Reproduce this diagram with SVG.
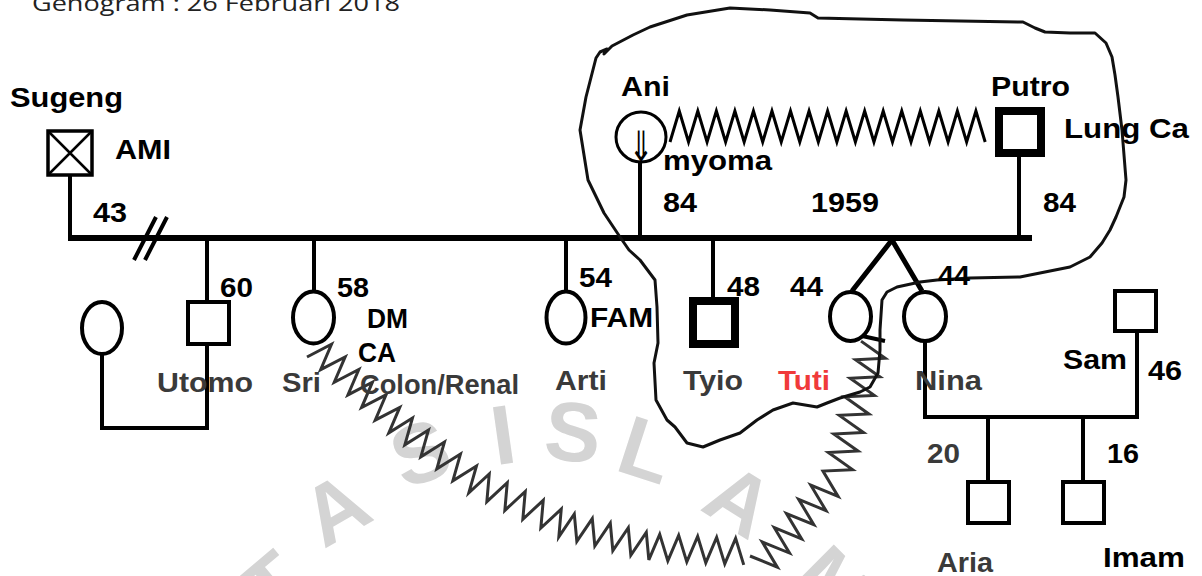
<svg xmlns="http://www.w3.org/2000/svg" width="1202" height="576" viewBox="0 0 1202 576">
<style>
.ln{stroke:#000;stroke-width:4;fill:none;stroke-linecap:butt}
.zz{stroke:#000;stroke-width:3;fill:none;stroke-linejoin:miter}
.zg{stroke:#333;stroke-width:3;fill:none;stroke-linejoin:miter}
.sh{fill:#fff;stroke:#000;stroke-width:4}
.thick{fill:#fff;stroke:#000;stroke-width:8}
.t{font-family:"Liberation Sans",Arial,sans-serif;font-weight:bold;font-size:27px;fill:#000}
.g{fill:#3a3a3a}
.wm{font-family:"Liberation Sans",Arial,sans-serif;font-weight:bold;font-size:84px;fill:#d4d4d4;text-anchor:middle}
</style>
<rect width="1202" height="576" fill="#fff"/>
<g id="watermark">
<text class="wm" transform="translate(272,585) rotate(-40)" y="30">T</text>
<text class="wm" transform="translate(335,508) rotate(-30)" y="30">A</text>
<text class="wm" transform="translate(420,452) rotate(-20)" y="30">S</text>
<text class="wm" transform="translate(503,434) rotate(-8)" y="30">I</text>
<text class="wm" transform="translate(573,431) rotate(5)" y="30">S</text>
<text class="wm" transform="translate(647,449) rotate(18)" y="30">L</text>
<text class="wm" transform="translate(740,500) rotate(32)" y="30">A</text>
<text class="wm" transform="translate(835,585) rotate(45)" y="30">M</text>
</g>
<text x="32" y="11" font-family="'Open Sans',sans-serif" font-size="22" fill="#222" textLength="368" lengthAdjust="spacingAndGlyphs">Genogram : 26 Februari 2018</text>

<g id="connectors">
<path class="ln" d="M70,175V240"/>
<path stroke="#000" stroke-width="6" d="M68,238H1032"/>
<path class="ln" d="M156,217L134,260M167,217L145,260"/>
<path class="ln" d="M207,238V302M207,344V430M100,428H209M102,354V430"/>
<path class="ln" d="M314,238V292"/>
<path class="ln" d="M566,238V292"/>
<path class="ln" d="M713,238V300"/>
<path class="ln" d="M640,162V238"/>
<path class="ln" d="M1019,157V238"/>
<path stroke="#000" stroke-width="5" fill="none" d="M852,291L892,240L922,291"/>
<path class="ln" d="M853,334L885,341"/>
<path class="ln" d="M925,341V417M923,417H1139M1137,331V419"/>
<path class="ln" d="M988,417V482M1083,417V482"/>
<path class="zz" d="M670,142l9.27,-31 9.27,31l9.27,-31 9.27,31l9.27,-31 9.27,31l9.27,-31 9.27,31l9.27,-31 9.27,31l9.27,-31 9.27,31l9.27,-31 9.27,31l9.27,-31 9.27,31l9.27,-31 9.27,31l9.27,-31 9.27,31l9.27,-31 9.27,31l9.27,-31 9.27,31l9.27,-31 9.27,31l9.27,-31 9.27,31l9.27,-31 9.27,31l9.27,-31 9.27,31l9.27,-31 9.27,31"/>
<path class="zg" d="M307,357l24.5,-12.74 -10.86,25.38l24.5,-12.74 -10.86,25.38l24.5,-12.74 -10.86,25.38l24.5,-12.74 -10.86,25.38l24.5,-12.74 -10.86,25.38l24.5,-12.74 -10.86,25.38l23.6,-14.8 -7.6,26.8l23.6,-14.8 -7.6,26.8l23.6,-14.8 -7.6,26.8l23.6,-14.8 -7.6,26.8l23.6,-14.8 -7.6,26.8l20.41,-18.95 -2.41,27.75l20.41,-18.95 -2.41,27.75l20.41,-18.95 -2.41,27.75l20.41,-18.95 -2.41,27.75l20.41,-18.95 -2.41,27.75l15.45,-22.89 2.55,27.49l15.45,-22.89 2.55,27.49l15.45,-22.89 2.55,27.49l15.45,-22.89 2.55,27.49l15.45,-22.89 2.55,27.49l10.87,-25.47 8.11,26.47l10.87,-25.47 8.11,26.47l10.87,-25.47 8.11,26.47l10.87,-25.47 8.11,26.47l10.87,-25.47 8.11,26.47"/>
<path class="zg" d="M750,556l27.33,11.18 -15.17,-25.34l27.33,11.18 -15.17,-25.34l27.33,11.18 -15.17,-25.34l27.33,11.18 -15.17,-25.34l27.33,11.18 -15.17,-25.34l27.33,11.18 -15.17,-25.34l29.6,-1.41 -24.16,-17.15l29.6,-1.41 -24.16,-17.15l29.6,-1.41 -24.16,-17.15l29.6,-1.41 -24.16,-17.15l29.6,-1.41 -24.16,-17.15l29.6,-1.41 -24.16,-17.15l29.6,-1.41 -24.16,-17.15"/>
<path fill="none" stroke="#111" stroke-width="3" stroke-linejoin="round" d="M580,130L586,97L596,58L600,52L607,49L604,54L612,46L633,35L650,27L687,15L730,8L770,10L810,13L818,18L860,19L903,20L960,21L1023,22L1035,28L1045,32L1070,33L1095,33L1106,43L1112,57L1115,75L1118,97L1122,130L1124,155L1126,180L1124,197L1116,217L1110,230L1102,243L1090,257L1070,267L1045,272L1020,277L970,278L937,280L920,282L897,287L887,292L882,300L880,330L880,350L878,373L870,387L860,392L840,398L827,403L817,407L793,403L773,410L757,420L740,433L720,440L703,447L687,443L675,427L667,420L656,400L654,363L658,343L657,307L655,280L640,260L629,250L620,237L604,213L588,180Z"/>
</g>

<g id="sugeng">
<rect x="48" y="131" width="44" height="44" fill="#fff" stroke="#000" stroke-width="3.5"/>
<path stroke="#000" stroke-width="2.5" d="M48,131L92,175M92,131L48,175"/>
<text class="t" x="10" y="107" textLength="113" lengthAdjust="spacingAndGlyphs">Sugeng</text>
<text class="t" x="115" y="159" font-size="30" textLength="56" lengthAdjust="spacingAndGlyphs">AMI</text>
<text class="t" x="93" y="222" textLength="34" lengthAdjust="spacingAndGlyphs">43</text>
</g>
<g id="ani">
<circle cx="641" cy="137" r="25" fill="#fff" stroke="#000" stroke-width="3"/>
<text transform="translate(641,160.5) scale(0.7,1)" font-family="'DejaVu Sans',sans-serif" font-size="42" text-anchor="middle">⇓</text>
<text class="t" x="621" y="96" textLength="49" lengthAdjust="spacingAndGlyphs">Ani</text>
<text class="t" x="663" y="170" textLength="109" lengthAdjust="spacingAndGlyphs">myoma</text>
<text class="t" x="663" y="212" textLength="34" lengthAdjust="spacingAndGlyphs">84</text>
</g>
<g id="putro">
<rect class="thick" x="999" y="111" width="42" height="42"/>
<text class="t" x="991" y="96" textLength="79" lengthAdjust="spacingAndGlyphs">Putro</text>
<text class="t" x="1064" y="138" textLength="125" lengthAdjust="spacingAndGlyphs">Lung Ca</text>
<text class="t" x="1043" y="212" textLength="33" lengthAdjust="spacingAndGlyphs">84</text>
</g>
<g id="marriage">
<text class="t" x="811" y="212" textLength="68" lengthAdjust="spacingAndGlyphs">1959</text>
</g>
<g id="utomo-wife">
<ellipse class="sh" cx="102" cy="328" rx="20" ry="26"/>
</g>
<g id="utomo">
<rect class="sh" x="188" y="302" width="41" height="42"/>
<text class="t" x="220" y="297" textLength="33" lengthAdjust="spacingAndGlyphs">60</text>
<text class="t g" x="157" y="392" textLength="96" lengthAdjust="spacingAndGlyphs">Utomo</text>
</g>
<g id="sri">
<ellipse class="sh" cx="313.5" cy="317.5" rx="20.5" ry="26"/>
<text class="t" x="337" y="297" textLength="32" lengthAdjust="spacingAndGlyphs">58</text>
<text class="t" x="367" y="328" font-size="26" textLength="41" lengthAdjust="spacingAndGlyphs">DM</text>
<text class="t" x="358" y="362" font-size="26" textLength="38" lengthAdjust="spacingAndGlyphs">CA</text>
<text class="t g" x="282" y="392" textLength="39" lengthAdjust="spacingAndGlyphs">Sri</text>
<text class="t g" x="360" y="394" textLength="159" lengthAdjust="spacingAndGlyphs">Colon/Renal</text>
</g>
<g id="arti">
<ellipse class="sh" cx="566" cy="317.5" rx="19.5" ry="26"/>
<text class="t" x="579" y="287" textLength="33" lengthAdjust="spacingAndGlyphs">54</text>
<text class="t" x="590" y="327" textLength="63" lengthAdjust="spacingAndGlyphs">FAM</text>
<text class="t g" x="555" y="390" textLength="52" lengthAdjust="spacingAndGlyphs">Arti</text>
</g>
<g id="tyio">
<rect class="thick" x="693" y="301" width="42" height="43"/>
<text class="t" x="727" y="296" textLength="33" lengthAdjust="spacingAndGlyphs">48</text>
<text class="t g" x="683" y="390" textLength="60" lengthAdjust="spacingAndGlyphs">Tyio</text>
</g>
<g id="tuti">
<ellipse class="sh" cx="850.5" cy="316.5" rx="20.5" ry="24.5"/>
<text class="t" x="790" y="296" textLength="33" lengthAdjust="spacingAndGlyphs">44</text>
<text class="t" x="778" y="390" style="fill:#f03a3a" textLength="52" lengthAdjust="spacingAndGlyphs">Tuti</text>
</g>
<g id="nina">
<ellipse class="sh" cx="925" cy="316.5" rx="21" ry="24.5"/>
<text class="t" x="938" y="285" textLength="32" lengthAdjust="spacingAndGlyphs">44</text>
<text class="t g" x="915" y="390" textLength="67" lengthAdjust="spacingAndGlyphs">Nina</text>
</g>
<g id="sam">
<rect class="sh" x="1115" y="291" width="41" height="40"/>
<text class="t" x="1063" y="369" textLength="64" lengthAdjust="spacingAndGlyphs">Sam</text>
<text class="t" x="1148" y="380" textLength="34" lengthAdjust="spacingAndGlyphs">46</text>
</g>
<g id="aria">
<rect class="sh" x="968" y="482" width="41" height="41"/>
<text class="t g" x="927" y="463" textLength="33" lengthAdjust="spacingAndGlyphs">20</text>
<text class="t g" x="937" y="572" textLength="56" lengthAdjust="spacingAndGlyphs">Aria</text>
</g>
<g id="imam">
<rect class="sh" x="1063" y="482" width="41" height="41"/>
<text class="t" x="1107" y="463" textLength="32" lengthAdjust="spacingAndGlyphs">16</text>
<text class="t" x="1103" y="567" textLength="82" lengthAdjust="spacingAndGlyphs">Imam</text>
</g>
</svg>
